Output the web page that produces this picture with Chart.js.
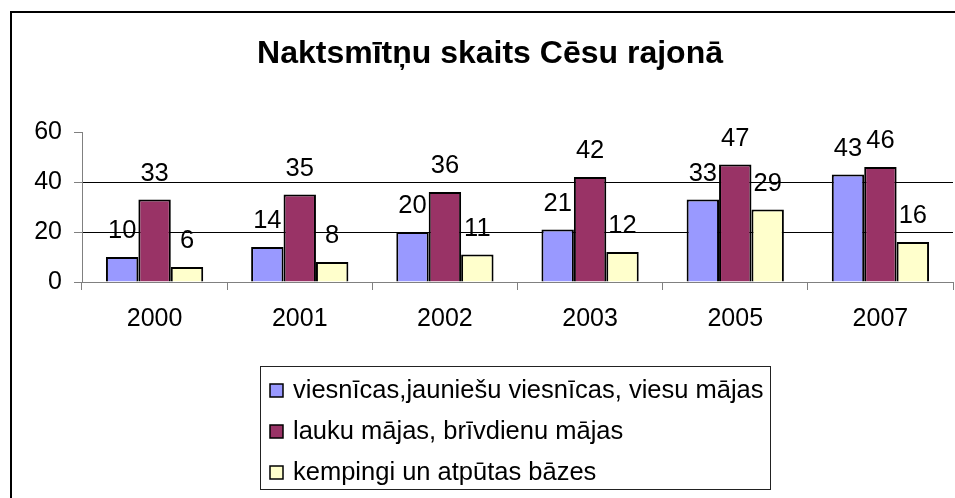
<!DOCTYPE html>
<html>
<head>
<meta charset="utf-8">
<script src="https://cdn.jsdelivr.net/npm/chart.js@4/dist/chart.umd.min.js"></script>
<style>
  body { margin: 0; background: #fff; }
</style>
</head>
<body>
<canvas id="chart" width="955" height="498"></canvas>
<script>
// Data
const years = ['2000', '2001', '2002', '2003', '2005', '2007'];
const hotels = [10, 14, 20, 21, 33, 43];
const ruralHouses = [33, 35, 36, 42, 47, 46];
const campsites = [6, 8, 11, 12, 29, 16];
const yTicks = [0, 20, 40, 60];

const seriesNames = [
  'viesnīcas,jauniešu viesnīcas, viesu mājas',
  'lauku mājas, brīvdienu mājas',
  'kempingi un atpūtas bāzes'
];
const seriesColors = ['#9999FF', '#993366', '#FFFFCC'];

const FONT = '"Liberation Sans", Arial, sans-serif';

// frame + title + legend + value labels
const decor = {
  id: 'decor',
  beforeDraw(chart) {
    const c = chart.ctx;
    c.save();
    c.fillStyle = '#fff';
    c.fillRect(0, 0, chart.width, chart.height);
    c.strokeStyle = '#000';
    c.lineWidth = 2;
    c.strokeRect(11, 12, chart.width + 20, chart.height + 20);
    c.restore();
  },
  afterDatasetsDraw(chart) {
    const c = chart.ctx;
    c.save();
    c.fillStyle = '#000';
    c.font = '25.5px ' + FONT;
    c.textAlign = 'center';
    c.textBaseline = 'alphabetic';
    chart.data.datasets.forEach((ds, i) => {
      chart.getDatasetMeta(i).data.forEach((bar, j) => {
        c.fillText(ds.data[j], bar.x, bar.y - 19);
      });
    });
    c.restore();
  },
  afterDraw(chart) {
    const c = chart.ctx;
    c.save();
    // title
    c.fillStyle = '#000';
    c.font = 'bold 32px ' + FONT;
    c.textAlign = 'center';
    c.textBaseline = 'alphabetic';
    c.fillText('Naktsmītņu skaits Cēsu rajonā', 490, 63);

    // legend
    c.strokeStyle = '#222';
    c.lineWidth = 1;
    c.strokeRect(260.5, 366.5, 510, 123);
    c.font = '25.5px ' + FONT;
    c.textAlign = 'left';
    c.textBaseline = 'middle';
    chart.data.datasets.forEach((ds, i) => {
      const cy = 390 + i * 41;
      c.fillStyle = ds.backgroundColor;
      c.fillRect(270, cy - 6, 13, 13);
      c.strokeStyle = '#000';
      c.lineWidth = 1.5;
      c.strokeRect(270, cy - 6, 13, 13);
      c.fillStyle = '#000';
      c.fillText(ds.label, 293, cy + 1);
    });
    c.restore();
  }
};

new Chart(document.getElementById('chart'), {
  type: 'bar',
  data: {
    labels: years,
    datasets: [hotels, ruralHouses, campsites].map((d, i) => ({
      label: seriesNames[i],
      data: d,
      backgroundColor: seriesColors[i],
      borderColor: '#000',
      borderWidth: 2,
      categoryPercentage: 0.67,
      barPercentage: 1
    }))
  },
  options: {
    responsive: false,
    animation: false,
    layout: { padding: { top: 132, right: 2, left: 0, bottom: 0 } },
    plugins: {
      legend: { display: false },
      title: { display: false },
      tooltip: { enabled: false }
    },
    scales: {
      x: {
        offset: true,
        grid: {
          offset: true,
          drawOnChartArea: false,
          tickLength: 8,
          tickColor: '#808080'
        },
        border: { color: '#808080', width: 1 },
        ticks: { color: '#000', font: { size: 25, family: FONT }, padding: 14 },
        afterFit(scale) { scale.height = 216; }
      },
      y: {
        min: 0,
        max: 60,
        afterBuildTicks(scale) { scale.ticks = yTicks.map(v => ({ value: v })); },
        grid: {
          color: ctx => (ctx.tick && (ctx.tick.value === 20 || ctx.tick.value === 40)) ? '#000' : 'rgba(0,0,0,0)',
          tickColor: '#808080',
          tickLength: 8
        },
        border: { color: '#808080', width: 1 },
        ticks: { color: '#000', font: { size: 25, family: FONT }, padding: 12 },
        afterFit(scale) { scale.width = 82; }
      }
    }
  },
  plugins: [decor]
});
</script>
</body>
</html>
